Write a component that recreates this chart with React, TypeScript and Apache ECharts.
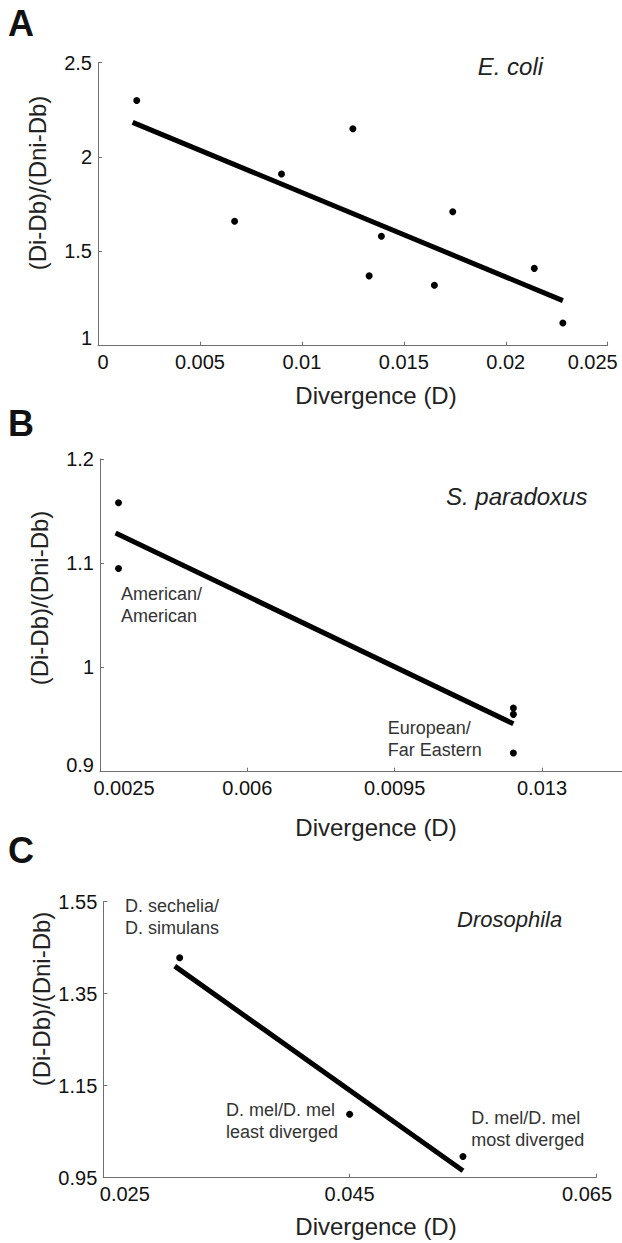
import React, { useEffect, useRef } from "react";
import * as echarts from "echarts";

// ---- Panel A: E. coli ----
const ecoliX = [0.0019, 0.0067, 0.009, 0.0125, 0.0133, 0.0139, 0.0165, 0.0174, 0.0214, 0.0228];
const ecoliY = [2.3, 1.66, 1.91, 2.15, 1.37, 1.58, 1.32, 1.71, 1.41, 1.12];
const ecoliFitX = [0.0017, 0.0228];
const ecoliFitY = [2.184, 1.239];
const ecoliTicksX = [0, 0.005, 0.01, 0.015, 0.02, 0.025];
const ecoliTicksY = [1, 1.5, 2, 2.5];

// ---- Panel B: S. paradoxus ----
const sparX = [0.00294, 0.00294, 0.01232, 0.01232, 0.01232];
const sparY = [1.158, 1.095, 0.961, 0.955, 0.918];
const sparFitX = [0.00287, 0.01232];
const sparFitY = [1.129, 0.946];
const sparTicksX = [0.0025, 0.006, 0.0095, 0.013];
const sparTicksY = [0.9, 1, 1.1, 1.2];

// ---- Panel C: Drosophila ----
const drosX = [0.0312, 0.045, 0.0542];
const drosY = [1.428, 1.088, 0.996];
const drosFitX = [0.0308, 0.0542];
const drosFitY = [1.41, 0.965];
const drosTicksX = [0.025, 0.045, 0.065];
const drosTicksY = [0.95, 1.15, 1.35, 1.55];

const FONT = "'Liberation Sans', Arial, Helvetica, sans-serif";
const AXIS = "#707070";
const TXT = "#111111";

const pairs = (xs: number[], ys: number[]) => xs.map((x, i) => [x, ys[i]]);

const tokenBase = { fontSize: 20, fontFamily: FONT, color: TXT };

// label shifts: padding on first / last label (in px)
function xAxis(
  gridIndex: number,
  min: number,
  max: number,
  ticks: number[],
  firstPad: number[],
  lastPad: number[]
) {
  const first = ticks[0];
  const last = ticks[ticks.length - 1];
  return {
    type: "value",
    gridIndex,
    min,
    max,
    axisLine: { show: true, lineStyle: { color: AXIS, width: 1 } },
    axisTick: { show: true, inside: true, length: 4, lineStyle: { color: AXIS }, customValues: ticks },
    axisLabel: {
      customValues: ticks,
      color: TXT,
      fontSize: 20,
      fontFamily: FONT,
      margin: 6,
      showMinLabel: true,
      showMaxLabel: true,
      formatter: (v: number) => {
        const s = String(+v.toPrecision(6));
        if (Math.abs(v - first) < 1e-9) return `{f|${s}}`;
        if (Math.abs(v - last) < 1e-9) return `{l|${s}}`;
        return `{n|${s}}`;
      },
      rich: {
        n: { ...tokenBase },
        f: { ...tokenBase, padding: firstPad },
        l: { ...tokenBase, padding: lastPad },
      },
    },
    splitLine: { show: false },
  };
}

function yAxis(gridIndex: number, min: number, max: number, ticks: number[], firstPad: number[]) {
  const first = ticks[0];
  return {
    type: "value",
    gridIndex,
    min,
    max,
    axisLine: { show: true, lineStyle: { color: AXIS, width: 1 } },
    axisTick: { show: true, inside: true, length: 4, lineStyle: { color: AXIS }, customValues: ticks },
    axisLabel: {
      customValues: ticks,
      color: TXT,
      fontSize: 20,
      fontFamily: FONT,
      margin: 6,
      showMinLabel: true,
      showMaxLabel: true,
      formatter: (v: number) => {
        const s = String(+v.toPrecision(6));
        if (Math.abs(v - first) < 1e-9) return `{f|${s}}`;
        return `{n|${s}}`;
      },
      rich: {
        n: { ...tokenBase },
        f: { ...tokenBase, padding: firstPad },
      },
    },
    splitLine: { show: false },
  };
}

function scatter(idx: number, data: number[][]) {
  return {
    type: "scatter",
    xAxisIndex: idx,
    yAxisIndex: idx,
    data,
    symbol: "circle",
    symbolSize: 7,
    itemStyle: { color: "#000", opacity: 1 },
    silent: true,
  };
}

function fit(idx: number, data: number[][]) {
  return {
    type: "line",
    xAxisIndex: idx,
    yAxisIndex: idx,
    data,
    symbol: "none",
    lineStyle: { color: "#000", width: 5, cap: "butt", opacity: 1 },
    silent: true,
  };
}

function txt(
  text: string,
  x: number,
  y: number,
  opts: { size?: number; italic?: boolean; bold?: boolean; align?: string; color?: string; rotate?: boolean } = {}
) {
  return {
    type: "text",
    x,
    y,
    rotation: opts.rotate ? Math.PI / 2 : 0,
    silent: true,
    style: {
      text,
      fill: opts.color || "#222",
      fontSize: opts.size || 24,
      fontFamily: FONT,
      fontStyle: opts.italic ? "italic" : "normal",
      fontWeight: opts.bold ? "bold" : "normal",
      align: opts.align || "center",
      verticalAlign: "middle",
      lineHeight: 22,
    },
  };
}

export default function App() {
  const ref = useRef<HTMLDivElement>(null);
  useEffect(() => {
    if (!ref.current) return;
    const chart = echarts.init(ref.current, undefined, { renderer: "svg" });
    const option: any = {
      animation: false,
      backgroundColor: "#fff",
      grid: [
        { left: 98, top: 62.7, width: 509.7, height: 283, containLabel: false, outerBoundsMode: "none" },
        { left: 100, top: 459, width: 522, height: 312.7, containLabel: false, outerBoundsMode: "none" },
        { left: 103.3, top: 901.7, width: 492.7, height: 276, containLabel: false, outerBoundsMode: "none" },
      ],
      xAxis: [
        xAxis(0, 0, 0.025, ecoliTicksX, [0, 0, 0, 10], [0, 30, 0, 0]),
        xAxis(1, 0.0025, 0.0149, sparTicksX, [0, 0, 0, 48], [0, 0, 0, 0]),
        xAxis(2, 0.025, 0.065, drosTicksX, [0, 0, 0, 43], [0, 18, 0, 0]),
      ],
      yAxis: [
        yAxis(0, 1, 2.5, ecoliTicksY, [0, 0, 16, 0]),
        yAxis(1, 0.9, 1.2, sparTicksY, [0, 0, 13, 0]),
        yAxis(2, 0.95, 1.55, drosTicksY, [0, 0, 0, 0]),
      ],
      series: [
        fit(0, pairs(ecoliFitX, ecoliFitY)),
        scatter(0, pairs(ecoliX, ecoliY)),
        fit(1, pairs(sparFitX, sparFitY)),
        scatter(1, pairs(sparX, sparY)),
        fit(2, pairs(drosFitX, drosFitY)),
        scatter(2, pairs(drosX, drosY)),
      ],
      graphic: [
        txt("A", 8, 23, { size: 36, bold: true, align: "left", color: "#111" }),
        txt("B", 8, 423, { size: 36, bold: true, align: "left", color: "#111" }),
        txt("C", 8, 850, { size: 36, bold: true, align: "left", color: "#111" }),

        txt("Divergence (D)", 376, 395),
        txt("Divergence (D)", 376, 827),
        txt("Divergence (D)", 376, 1226.7),

        txt("(Di-Db)/(Dni-Db)", 37, 183, { rotate: true }),
        txt("(Di-Db)/(Dni-Db)", 39, 598, { rotate: true }),
        txt("(Di-Db)/(Dni-Db)", 41, 999, { rotate: true }),

        txt("E. coli", 477.7, 66.7, { italic: true, align: "left" }),
        txt("S. paradoxus", 446, 496, { italic: true, align: "left" }),
        txt("Drosophila", 457, 919.3, { italic: true, align: "left", size: 22 }),

        txt("American/\nAmerican", 121, 605, { size: 18, align: "left", color: "#333" }),
        txt("European/\nFar Eastern", 387.7, 738.8, { size: 18, align: "left", color: "#333" }),
        txt("D. sechelia/\nD. simulans", 125, 916.6, { size: 18, align: "left", color: "#333" }),
        txt("D. mel/D. mel\nleast diverged", 226, 1121.2, { size: 18, align: "left", color: "#333" }),
        txt("D. mel/D. mel\nmost diverged", 471.3, 1128.5, { size: 18, align: "left", color: "#333" }),
      ],
    };
    chart.setOption(option);
    return () => chart.dispose();
  }, []);
  return (
    <div
      ref={ref}
      style={{ position: "absolute", left: 0, top: 0, width: 622, height: 1243, background: "#fff" }}
    />
  );
}
